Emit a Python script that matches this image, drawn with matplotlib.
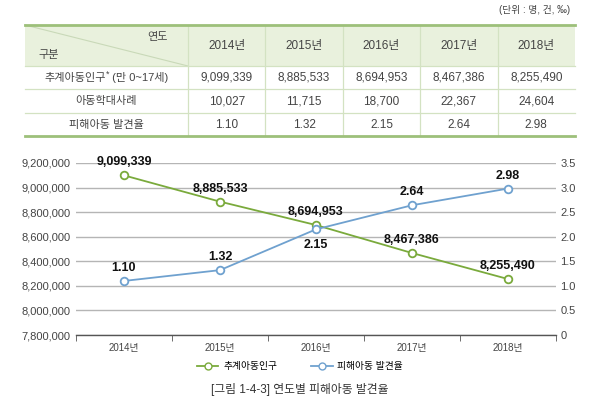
import matplotlib
matplotlib.use("Agg")
import matplotlib.pyplot as plt
from matplotlib.lines import Line2D
import numpy as np

plt.rcParams['font.family'] = ['Liberation Sans', 'Noto Sans CJK KR', 'DejaVu Sans']

years = ["2014년", "2015년", "2016년", "2017년", "2018년"]
population = [9099339, 8885533, 8694953, 8467386, 8255490]
abuse_cases = [10027, 11715, 18700, 22367, 24604]
rate = [1.10, 1.32, 2.15, 2.64, 2.98]

row_names = ["추계아동인구", "아동학대사례", "피해아동 발견율"]
pop_labels = ["9,099,339", "8,885,533", "8,694,953", "8,467,386", "8,255,490"]
case_labels = ["10,027", "11,715", "18,700", "22,367", "24,604"]
rate_labels = ["1.10", "1.32", "2.15", "2.64", "2.98"]

green = "#7aaa3c"
blue = "#6fa1cf"
txt = "#444444"

fig = plt.figure(figsize=(6, 4.05), dpi=100)
renderer = fig.canvas.get_renderer()

# overlay in pixel units for the table and captions
ov = fig.add_axes([0, 0, 1, 1])
ov.set_xlim(0, 600)
ov.set_ylim(405, 0)
ov.axis("off")

ov.text(570, 10, "(단위 : 명, 건, ‰)", ha="right", va="center", fontsize=7, color=txt)

tx0, tx1 = 25, 575
c1 = 188
col_edges = np.linspace(c1, tx1, len(years) + 1)
row_edges = [25, 66, 89, 113, 136]

ov.fill_between([tx0, tx1], row_edges[0], row_edges[1], color="#e9f1dd", lw=0)
ov.plot([tx0, c1], [row_edges[0], row_edges[1]], color="#c9d9b8", lw=0.8)
for y in row_edges[1:-1]:
    ov.plot([tx0, tx1], [y, y], color="#d3e2c2", lw=0.9)
for x in col_edges[:-1]:
    ov.plot([x, x], [row_edges[0], row_edges[-1]], color="#d3e2c2", lw=0.9)
ov.plot([tx0, tx1], [row_edges[0]] * 2, color="#9dc07a", lw=2)
ov.plot([tx0, tx1], [row_edges[-1]] * 2, color="#9dc07a", lw=2)

ov.text(168, 37, "연도", ha="right", va="center", fontsize=8, color=txt)
ov.text(38, 55, "구분", ha="left", va="center", fontsize=8, color=txt)

centers = (col_edges[:-1] + col_edges[1:]) / 2
ymid = [(row_edges[i] + row_edges[i + 1]) / 2 for i in range(4)]
for i, yr in enumerate(years):
    ov.text(centers[i], ymid[0], yr, ha="center", va="center", fontsize=8.5, color=txt)

# first row name: 추계아동인구* (만 0~17세) with a raised asterisk
parts = [("추계아동인구", 8, 0), ("*", 6.5, -3), (" (만 0~17세)", 8, 0)]
pieces = []
for s, fs, dy in parts:
    t = ov.text(0, ymid[1] + dy, s, ha="left", va="center", fontsize=fs, color=txt)
    pieces.append(t)
widths = [t.get_window_extent(renderer).width for t in pieces]
xs = (tx0 + c1) / 2 - sum(widths) / 2
for t, w in zip(pieces, widths):
    t.set_x(xs)
    xs += w

for r, vals in enumerate([pop_labels, case_labels, rate_labels]):
    if r > 0:
        ov.text((tx0 + c1) / 2, ymid[r + 1], row_names[r], ha="center", va="center",
                fontsize=8, color=txt)
    for i, v in enumerate(vals):
        ov.text(centers[i], ymid[r + 1], v, ha="center", va="center", fontsize=8.5, color=txt)

# chart
ax = fig.add_axes([76 / 600, 1 - 335 / 405, 480 / 600, 172 / 405])
ax.patch.set_alpha(0)
x = np.arange(len(years))
ax.set_xlim(-0.5, len(years) - 0.5)
ax.set_ylim(7800000, 9200000)
ax.set_yticks(np.arange(7800000, 9200001, 200000))
ax.set_yticklabels([f"{v:,}" for v in range(7800000, 9200001, 200000)])
ax.set_xticks(x)
ax.set_xticklabels(years)
ax.set_xticks(np.arange(-0.5, len(years)), minor=True)
ax.tick_params(axis="x", which="major", length=0, labelsize=7, colors=txt, pad=6)
ax.tick_params(axis="x", which="minor", length=4, color="#555555", direction="out")
ax.tick_params(axis="y", length=0, labelsize=8, colors=txt, pad=4)
ax.grid(axis="y", color="#b5b5b5", lw=1)
ax.set_axisbelow(True)
for s in ["top", "left", "right"]:
    ax.spines[s].set_visible(False)
ax.spines["bottom"].set_color("#555555")
ax.spines["bottom"].set_linewidth(1)

ax.plot(x, population, color=green, lw=1.3, marker="o", ms=5.5,
        mfc="white", mec=green, mew=1.3, zorder=3)
for i, v in enumerate(population):
    ax.annotate(pop_labels[i], (x[i], v), xytext=(0, 5), textcoords="offset points",
                ha="center", va="bottom", fontsize=9, fontweight="bold", color="#111111")

ax2 = ax.twinx()
ax2.set_ylim(0, 3.5)
ax2.set_yticks(np.arange(0, 3.51, 0.5))
ax2.set_yticklabels(["0"] + [f"{v:.1f}" for v in np.arange(0.5, 3.51, 0.5)])
ax2.tick_params(axis="y", length=0, labelsize=8, colors=txt, pad=3)
for s in ["top", "left", "right", "bottom"]:
    ax2.spines[s].set_visible(False)
ax2.plot(x, rate, color=blue, lw=1.3, marker="o", ms=5.5,
         mfc="white", mec=blue, mew=1.3, zorder=3)
for i, v in enumerate(rate):
    below = i == 2
    ax2.annotate(rate_labels[i], (x[i], v), xytext=(0, -7 if below else 5),
                 textcoords="offset points", ha="center",
                 va="top" if below else "bottom", fontsize=9,
                 fontweight="bold", color="#111111")

handles = [
    Line2D([], [], color=green, lw=1.3, marker="o", ms=5, mfc="white", mec=green),
    Line2D([], [], color=blue, lw=1.3, marker="o", ms=5, mfc="white", mec=blue),
]
fig.legend(handles, ["추계아동인구", "피해아동 발견율"], loc="center",
           bbox_to_anchor=(0.5, 1 - 366 / 405), ncol=2, frameon=False,
           fontsize=7, handlelength=2.2, columnspacing=3.5, handletextpad=0.5)

ov.text(300, 390, "[그림 1-4-3] 연도별 피해아동 발견율", ha="center", va="center",
        fontsize=8.5, color="#333333")

fig.savefig("out.png", dpi=100)
